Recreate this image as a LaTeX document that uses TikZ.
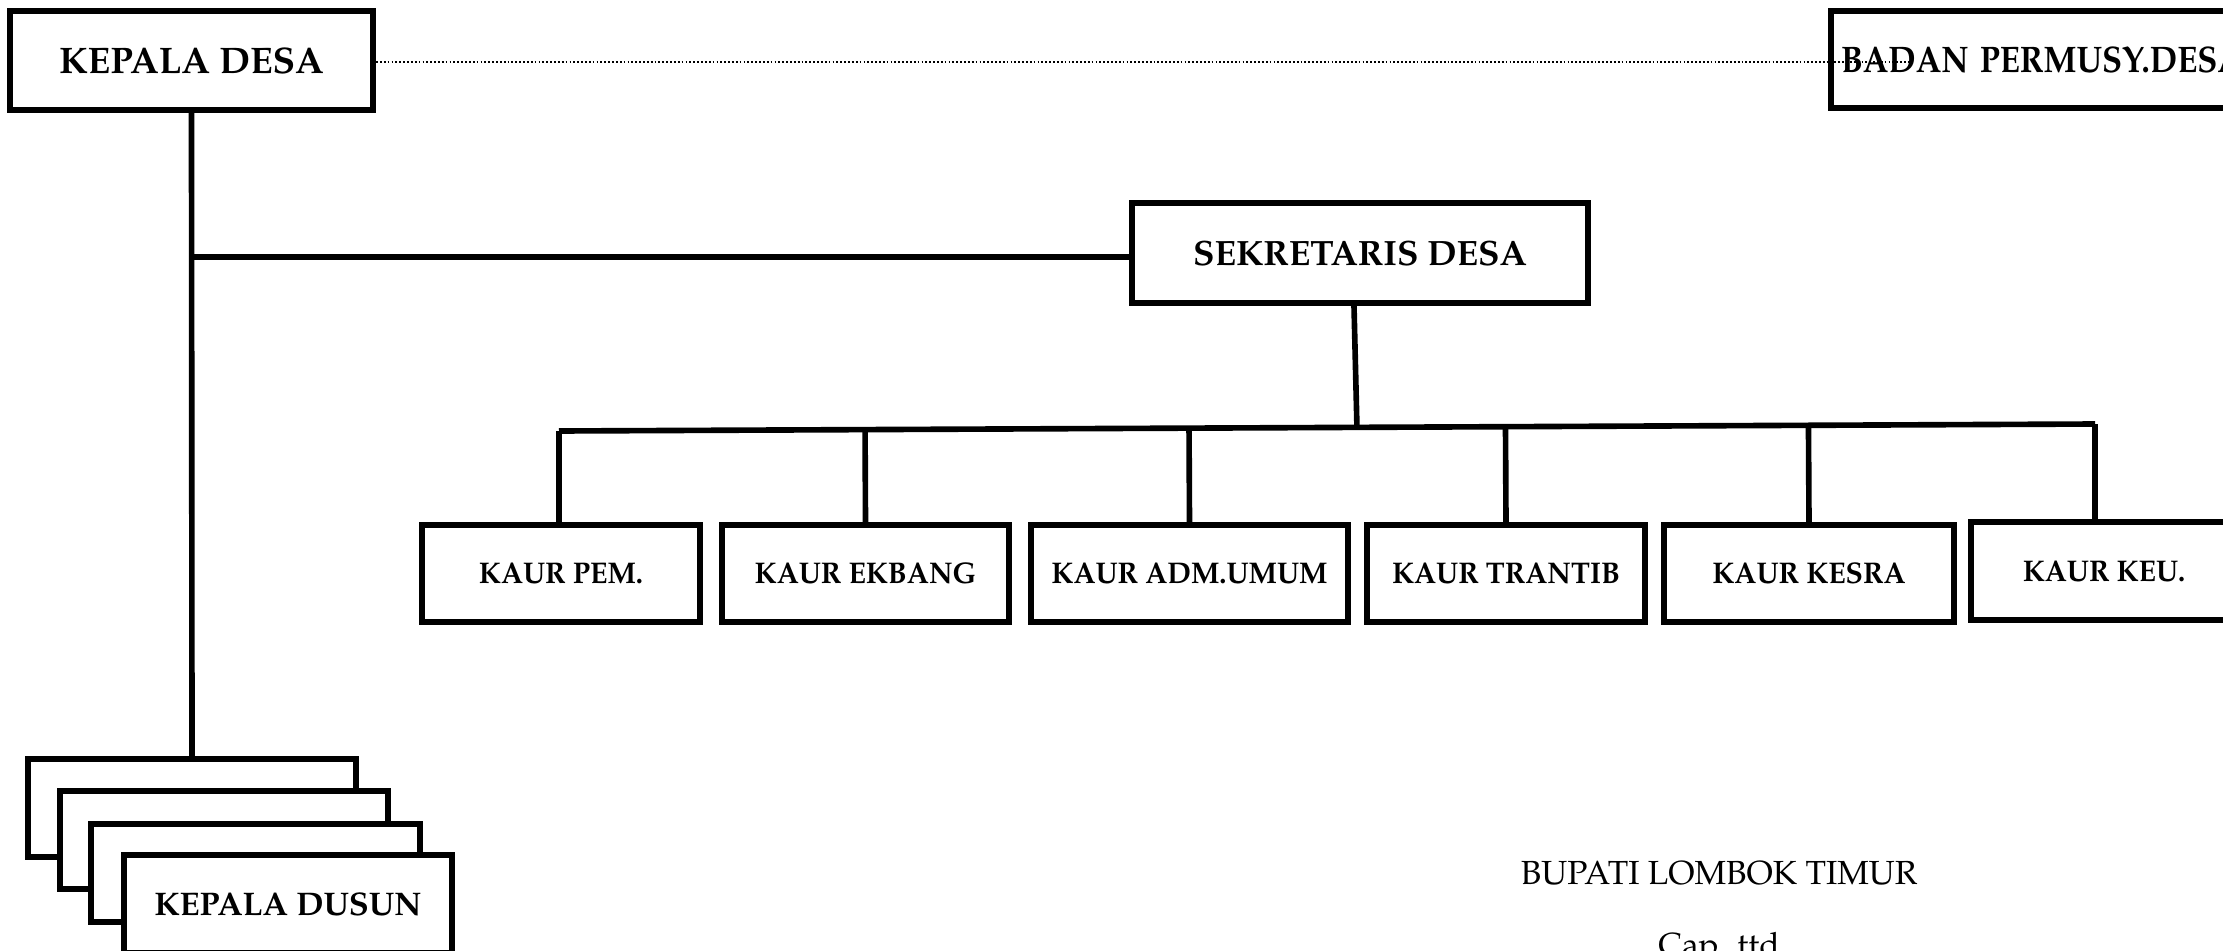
\documentclass[tikz,border=0pt]{standalone}
\usepackage[T1]{fontenc}
\usepackage{mathpazo}
\usetikzlibrary{calc}
\newcommand{\narrowtxt}[2]{\scalebox{#1}[1]{#2}}
\begin{document}
\begin{tikzpicture}[x=0.01cm,y=-0.01cm,
  box/.style={draw=black,fill=white,line width=1.7pt,inner sep=0pt,font=\bfseries\fontsize{10.5}{12}\selectfont},
  kaur/.style={box,minimum height=0.97cm,font=\bfseries\fontsize{8.5}{10}\selectfont},
  conn/.style={line width=1.6pt},
  dots/.style={line width=0.35pt,dash pattern=on 0.5pt off 0.6pt}]
\useasboundingbox (0,0) rectangle (2223,951);
\clip (0,0) rectangle (2223,951);
% top level
\node[box,minimum width=3.63cm,minimum height=0.99cm] (kd) at (191.5,60.5) {KEPALA DESA};
\node[box,minimum width=4.72cm,minimum height=0.97cm,anchor=west,text width=4.52cm,align=left] (bpd) at (1828,59.5) {\narrowtxt{0.89}{BADAN PERMUSY.DESA}};
\coordinate (dotend) at (1912,62);
\draw[dots] (kd.east |- dotend) -- (dotend);
\node[box,minimum width=4.56cm,minimum height=1.00cm,font=\bfseries\fontsize{10}{12}\selectfont] (sek) at (1360,253) {SEKRETARIS DESA};
% kaur
\node[kaur,minimum width=2.78cm] (k1) at (561,573.5) {\narrowtxt{0.95}{KAUR PEM.}};
\node[kaur,minimum width=2.87cm] (k2) at (865.5,573.5) {\narrowtxt{0.95}{KAUR EKBANG}};
\node[kaur,minimum width=3.17cm] (k3) at (1189.5,573.5) {\narrowtxt{0.95}{KAUR ADM.UMUM}};
\node[kaur,minimum width=2.78cm] (k4) at (1506,573.5) {\narrowtxt{0.95}{KAUR TRANTIB}};
\node[kaur,minimum width=2.90cm] (k5) at (1809,573.5) {\narrowtxt{0.95}{KAUR KESRA}};
\node[kaur,minimum width=2.66cm,minimum height=0.98cm] (k6) at (2104,571) {\narrowtxt{0.95}{KAUR KEU.}};
% dusun stack
\node[box,minimum width=3.28cm,minimum height=0.98cm] (d1) at (192,808) {};
\node[box,minimum width=3.28cm,minimum height=0.98cm] (d2) at (224,840) {};
\node[box,minimum width=3.28cm,minimum height=0.98cm] (d3) at (255.5,873) {};
\node[box,minimum width=3.28cm,minimum height=0.98cm,font=\bfseries\fontsize{9.3}{11}\selectfont] (d4) at (288,904) {KEPALA DUSUN};
% connectors
\draw[conn] (kd.south) -- (d1.north);
\draw[conn] (kd.south |- 0,257) coordinate (junc) -- (sek.west |- junc);
\coordinate (busL) at (559,431);
\coordinate (busR) at (2095,424);
\coordinate (busM) at ($(busL)!0.5195!(busR)$);
\draw[conn] ($(sek.south)+(-6,0)$) -- (busM);
\draw[conn] (busL) -- (busR);
\draw[conn] (busL) -- (k1.north -| busL);
\draw[conn] ($(busL)!(k2.north)!(busR)$) -- (k2.north);
\draw[conn] ($(busL)!(k3.north)!(busR)$) -- (k3.north);
\draw[conn] ($(busL)!(k4.north)!(busR)$) -- (k4.north);
\draw[conn] ($(busL)!(k5.north)!(busR)$) -- (k5.north);
\draw[conn] (busR) -- (k6.north -| busR);
% signature
\node[font=\fontsize{9.5}{11}\selectfont] (bup) at (1719,873) {BUPATI LOMBOK TIMUR};
\node[font=\fontsize{9.5}{11}\selectfont] (cap) at (1719,949) {Cap. ttd};
\end{tikzpicture}
\end{document}
